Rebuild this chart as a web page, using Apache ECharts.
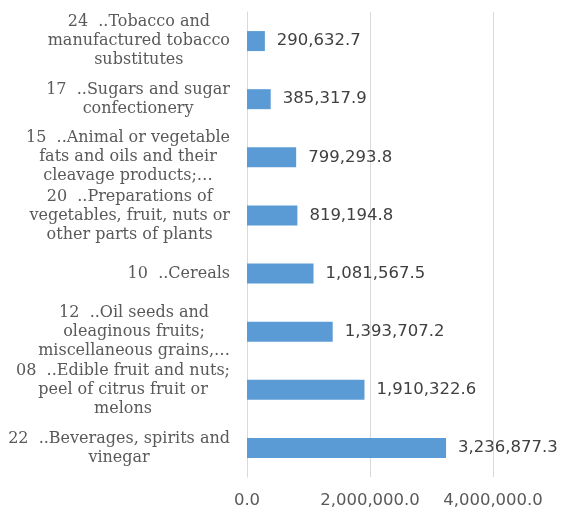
<!DOCTYPE html>
<html><head><meta charset="utf-8">
<script src="https://cdn.jsdelivr.net/npm/echarts@6/dist/echarts.min.js"></script>
<style>html,body{margin:0;padding:0;background:#fff}#c{width:563px;height:509px}</style>
</head><body><div id="c"></div>
<script>
const categories = [
  "24  ..Tobacco and\nmanufactured tobacco\nsubstitutes",
  "17  ..Sugars and sugar\nconfectionery",
  "15  ..Animal or vegetable\nfats and oils and their\ncleavage products;…",
  "20  ..Preparations of\nvegetables, fruit, nuts or\nother parts of plants",
  "10  ..Cereals",
  "12  ..Oil seeds and\noleaginous fruits;\nmiscellaneous grains,…",
  "08  ..Edible fruit and nuts;\npeel of citrus fruit or\nmelons",
  "22  ..Beverages, spirits and\nvinegar"
];
const values = [290632.7, 385317.9, 799293.8, 819194.8, 1081567.5, 1393707.2, 1910322.6, 3236877.3];
const xTicks = [0, 2000000, 4000000];

function fmt(v) {
  return Number(v).toLocaleString('en-US', {minimumFractionDigits: 1, maximumFractionDigits: 1});
}

const chart = echarts.init(document.getElementById('c'), null, {renderer: 'canvas'});
chart.setOption({
  animation: false,
  backgroundColor: '#ffffff',
  grid: {left: 247, right: 70, top: 12, bottom: 27, containLabel: false},
  xAxis: {
    type: 'value',
    min: xTicks[0],
    max: xTicks[xTicks.length - 1],
    interval: xTicks[1] - xTicks[0],
    axisLine: {show: false},
    axisTick: {show: false},
    splitLine: {show: true, lineStyle: {color: '#D9D9D9', width: 1}},
    axisLabel: {
      formatter: fmt,
      color: '#595959',
      fontFamily: 'DejaVu Sans',
      fontSize: 16.5,
      margin: 15
    }
  },
  yAxis: {
    type: 'category',
    inverse: true,
    data: categories,
    axisLine: {show: true, lineStyle: {color: '#D9D9D9', width: 1}},
    axisTick: {show: false},
    splitLine: {show: false},
    axisLabel: {
      margin: 17,
      align: 'right',
      formatter: function (v) {
        return v.split('\n').map(function (l) { return '{c|' + l + '}'; }).join('\n');
      },
      rich: {
        c: {
          align: 'center',
          color: '#595959',
          fontFamily: 'DejaVu Serif',
          fontSize: 16,
          lineHeight: 19
        }
      }
    }
  },
  series: [{
    type: 'bar',
    data: values,
    barWidth: 20,
    itemStyle: {color: '#5B9BD5'},
    label: {
      show: true,
      position: 'right',
      distance: 12,
      formatter: function (p) { return fmt(p.value); },
      color: '#404040',
      fontFamily: 'DejaVu Sans',
      fontSize: 16.5
    }
  }]
});
</script>
</body></html>
